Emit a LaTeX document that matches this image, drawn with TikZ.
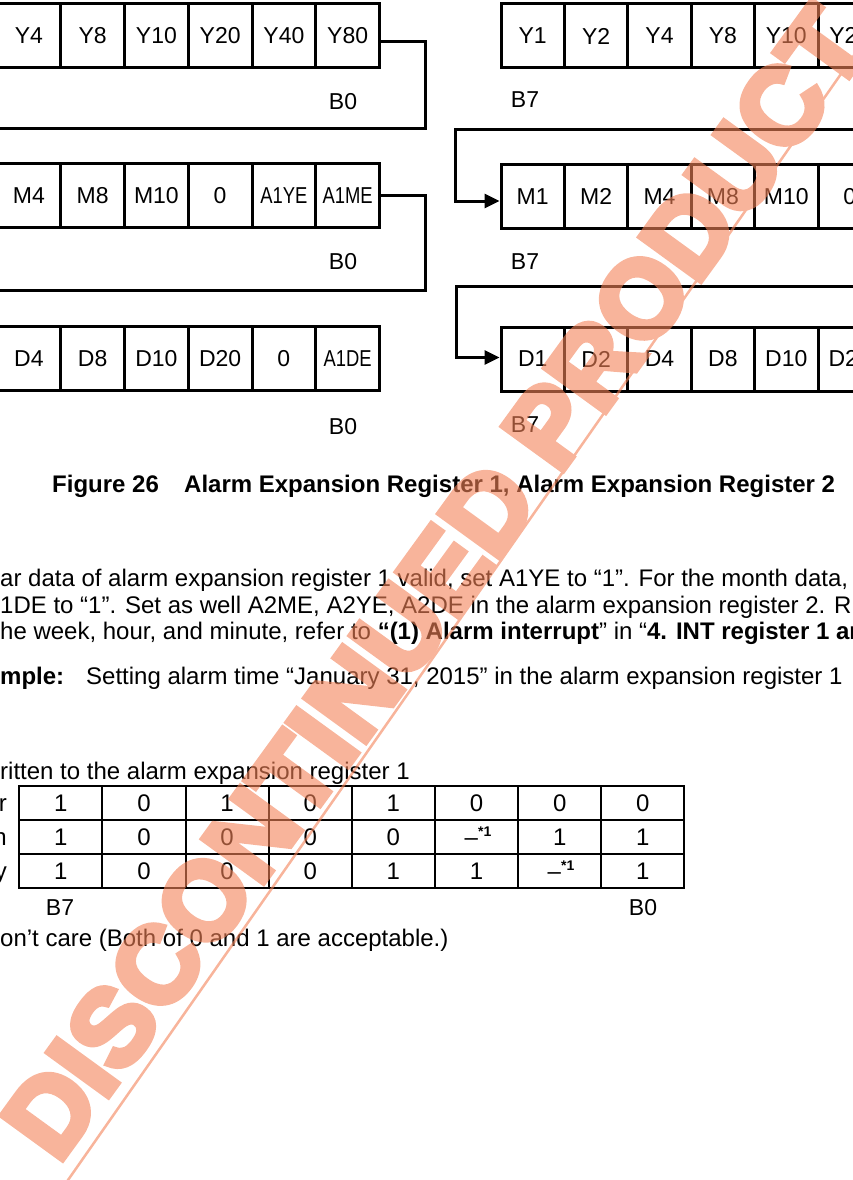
\documentclass[tikz,border=0pt]{standalone}
\usepackage{fontspec}
\usepackage{graphicx}
\setmainfont{Liberation Sans}
\newfontfamily\wmfont[FakeBold=6]{Liberation Sans Bold}
\usetikzlibrary{arrows.meta}
\definecolor{wmcol}{RGB}{243,130,88}
\newcommand{\narrowtxt}[1]{\scalebox{0.8}[1]{#1}}
\newcommand{\dcare}{–\raisebox{9pt}{\fontsize{14}{14}\selectfont\bfseries *1}}
\begin{document}
\begin{tikzpicture}[x=1pt,y=-1pt,
  regbox/.style={draw, line width=3pt, minimum width=63.75pt, minimum height=64pt, inner sep=0pt, font=\fontsize{23}{23}\selectfont},
  rregbox/.style={regbox, minimum width=63.4pt},
  conn/.style={line width=3pt},
  arr/.style={-{Triangle[length=15pt,width=14pt]}},
  lbl/.style={font=\fontsize{23}{23}\selectfont, inner sep=0pt},
  body/.style={font=\fontsize{24}{27}\selectfont, inner sep=0pt, anchor=base west},
  cell/.style={font=\fontsize{24}{24}\selectfont, inner sep=0pt, anchor=base},
  tline/.style={line width=2pt},
]
\useasboundingbox (0,0) rectangle (853,1180);
\begin{scope}
\clip (0,0) rectangle (853,1180);

% ---------- left register rows ----------
\node[regbox] (ly4)  at (28.875,35.5) {Y4};
\node[regbox] (ly8)  at (92.625,35.5) {Y8};
\node[regbox] (ly10) at (156.375,35.5) {Y10};
\node[regbox] (ly20) at (220.125,35.5) {Y20};
\node[regbox] (ly40) at (283.875,35.5) {Y40};
\node[regbox] (ly80) at (347.625,35.5) {Y80};

\node[regbox] (lm4)  at (28.875,195.75) {M4};
\node[regbox] (lm8)  at (92.625,195.75) {M8};
\node[regbox] (lm10) at (156.375,195.75) {M10};
\node[regbox] (lmz)  at (220.125,195.75) {0};
\node[regbox] (la1ye) at (283.875,195.75) {\narrowtxt{A1YE}};
\node[regbox] (la1me) at (347.625,195.75) {\narrowtxt{A1ME}};

\node[regbox] (ld4)  at (28.875,358.5) {D4};
\node[regbox] (ld8)  at (92.625,358.5) {D8};
\node[regbox] (ld10) at (156.375,358.5) {D10};
\node[regbox] (ld20) at (220.125,358.5) {D20};
\node[regbox] (ldz)  at (283.875,358.5) {0};
\node[regbox] (la1de) at (347.625,358.5) {\narrowtxt{A1DE}};

\node[lbl] (lb0a) at (343,102) {B0};
\node[lbl] (lb0b) at (343,262) {B0};
\node[lbl] (lb0c) at (343,427) {B0};

% ---------- right register rows ----------
\node[rregbox] (ry1)  at (532.7,36) {Y1};
\node[rregbox] (ry2)  at (596.1,36) {Y2};
\node[rregbox] (ry4)  at (659.5,36) {Y4};
\node[rregbox] (ry8)  at (722.9,36) {Y8};
\node[rregbox] (ry10) at (786.3,36) {Y10};
\node[rregbox] (ry20) at (849.7,36) {Y20};

\node[rregbox] (rm1)  at (532.7,196.5) {M1};
\node[rregbox] (rm2)  at (596.1,196.5) {M2};
\node[rregbox] (rm4)  at (659.5,196.5) {M4};
\node[rregbox] (rm8)  at (722.9,196.5) {M8};
\node[rregbox] (rm10) at (786.3,196.5) {M10};
\node[rregbox] (rmz)  at (849.7,196.5) {0};

\node[rregbox] (rd1)  at (532.7,359) {D1};
\node[rregbox] (rd2)  at (596.1,359) {D2};
\node[rregbox] (rd4)  at (659.5,359) {D4};
\node[rregbox] (rd8)  at (722.9,359) {D8};
\node[rregbox] (rd10) at (786.3,359) {D10};
\node[rregbox] (rd20) at (849.7,359) {D20};

\node[lbl] (rb7a) at (525,100) {B7};
\node[lbl] (rb7b) at (525,262) {B7};
\node[lbl] (rb7c) at (525,425) {B7};

% ---------- connectors ----------
\coordinate (bendL1) at (425,128.3);
\coordinate (outL1) at (-5,128.3);
\draw[conn] ([yshift=-6pt]ly80.east) -| (bendL1) -- (outL1);
\coordinate (bendL2) at (425,290);
\coordinate (outL2) at (-5,290);
\draw[conn] (la1me.east) -| (bendL2) -- (outL2);

\coordinate (inR1) at (860,130);
\coordinate (bendR1) at (455,130);
\draw[conn,arr] (inR1) -- (bendR1) |- ([yshift=-4.5pt]rm1.west);
\coordinate (inR2) at (860,286);
\coordinate (bendR2) at (456,286);
\draw[conn,arr] (inR2) -- (bendR2) |- ([yshift=1.5pt]rd1.west);

% ---------- caption and body text ----------
\node[anchor=base west, inner sep=0pt, font=\fontsize{24}{24}\selectfont\bfseries] (cap1) at (52,492) {Figure 26};
\node[anchor=base west, inner sep=0pt, font=\fontsize{24}{24}\selectfont\bfseries] (cap2) at (184,492) {Alarm Expansion Register 1, Alarm Expansion Register 2};

\node[body] (t1) at (0,586) {ar data of alarm expansion register 1 valid, set A1YE to “1”. For the month data,};
\node[body] (t2) at (0,613) {1DE to “1”. Set as well A2ME, A2YE, A2DE in the alarm expansion register 2. R};
\node[body] (t3) at (0,639) {he week, hour, and minute, refer to \textbf{“(1) Alarm interrupt}” in “\textbf{4. INT register 1 and}};
\node[body] (t4a) at (0,684) {\textbf{mple:}};
\node[body] (t4b) at (86,684) {Setting alarm time “January 31, 2015” in the alarm expansion register 1};
\node[body] (t5) at (0,779) {ritten to the alarm expansion register 1};

% ---------- table ----------
\draw[tline] (19.3,785.7) rectangle (684.3,887.5);
\draw[tline] (19.3,819.5) -- (684.3,819.5);
\draw[tline] (19.3,853.5) -- (684.3,853.5);
\foreach \k in {1,...,7} {\draw[tline] (19.3+83.125*\k,785.7) -- (19.3+83.125*\k,887.5);}

\node[cell, anchor=base east] (rlab1) at (7,811.2) {r};
\node[cell, anchor=base east] (rlab2) at (7,845.1) {h};
\node[cell, anchor=base east] (rlab3) at (7,879.1) {y};

\node[cell] (c11) at (60.9,811.2) {1};
\node[cell] (c12) at (144.0,811.2) {0};
\node[cell] (c13) at (227.1,811.2) {1};
\node[cell] (c14) at (310.3,811.2) {0};
\node[cell] (c15) at (393.4,811.2) {1};
\node[cell] (c16) at (476.5,811.2) {0};
\node[cell] (c17) at (559.7,811.2) {0};
\node[cell] (c18) at (642.8,811.2) {0};

\node[cell] (c21) at (60.9,845.1) {1};
\node[cell] (c22) at (144.0,845.1) {0};
\node[cell] (c23) at (227.1,845.1) {0};
\node[cell] (c24) at (310.3,845.1) {0};
\node[cell] (c25) at (393.4,845.1) {0};
\node[cell] (c26) at (478,845.1) {\dcare};
\node[cell] (c27) at (559.7,845.1) {1};
\node[cell] (c28) at (642.8,845.1) {1};

\node[cell] (c31) at (60.9,879.1) {1};
\node[cell] (c32) at (144.0,879.1) {0};
\node[cell] (c33) at (227.1,879.1) {0};
\node[cell] (c34) at (310.3,879.1) {0};
\node[cell] (c35) at (393.4,879.1) {1};
\node[cell] (c36) at (476.5,879.1) {1};
\node[cell] (c37) at (561,879.1) {\dcare};
\node[cell] (c38) at (642.8,879.1) {1};

\node[lbl] (tb7) at (60,908) {B7};
\node[lbl] (tb0) at (643,908) {B0};

\node[body] (foot) at (0,946) {on’t care (Both of 0 and 1 are acceptable.)};

% ---------- watermark (one transparency group on top) ----------
\begin{scope}[transparency group, opacity=0.6]
\node[anchor=base west, rotate=54, inner sep=0pt, text=wmcol, font=\fontsize{108}{108}\wmfont] (wmtext) at (58,1165) {DISCONTINUED PRODUCT};
\coordinate (wmA) at (60,1191.5);
\coordinate (wmB) at (900,-10.5);
\draw[wmcol, line width=2.5pt] (wmA) -- (wmB);
\end{scope}
\end{scope}
\end{tikzpicture}
\end{document}
